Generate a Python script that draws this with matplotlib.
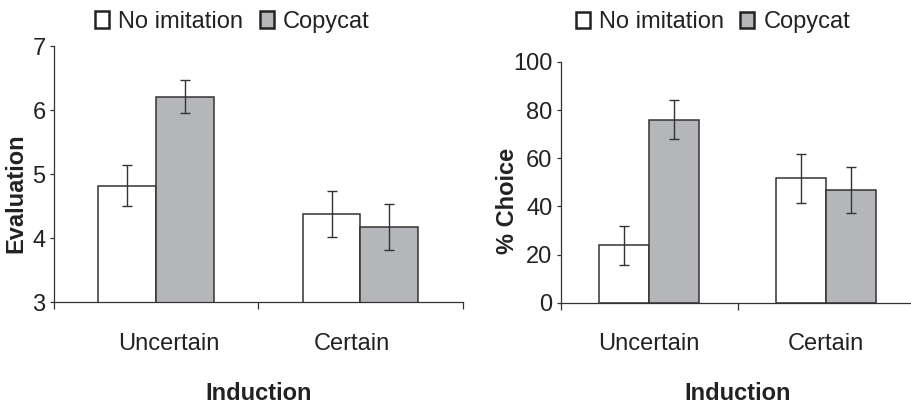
import numpy as np
import matplotlib
matplotlib.use('Agg')
import matplotlib.pyplot as plt
import matplotlib.patches as mpatches

# dados
categorias = ['Uncertain', 'Certain']
series = ['No imitation', 'Copycat']

aval_sem_imit = [4.82, 4.38]
aval_copycat = [6.21, 4.18]
aval_sem_imit_err = [0.32, 0.36]
aval_copycat_err = [0.26, 0.36]

escolha_sem_imit = [23.8, 51.6]
escolha_copycat = [76.0, 46.8]
escolha_sem_imit_err = [8.0, 10.1]
escolha_copycat_err = [8.0, 9.6]

COR_TEXTO = '#222222'
COR_LINHA = '#333333'
CORES = ['white', '#b5b6b9']

plt.rcParams['font.family'] = ['Liberation Sans', 'DejaVu Sans']
plt.rcParams['font.size'] = 17
plt.rcParams['text.color'] = COR_TEXTO
plt.rcParams['axes.labelcolor'] = COR_TEXTO
plt.rcParams['xtick.color'] = COR_LINHA
plt.rcParams['ytick.color'] = COR_LINHA
plt.rcParams['xtick.labelcolor'] = COR_TEXTO
plt.rcParams['ytick.labelcolor'] = COR_TEXTO

LARGURA = 0.283


def painel(ax, v1, v2, e1, e2, ylim, yticks, ylabel, pos_rotulos, ylabel_xy, leg_xy):
    x = np.arange(len(categorias))
    for desl, vals, errs, cor in [(-LARGURA / 2, v1, e1, CORES[0]),
                                  (LARGURA / 2, v2, e2, CORES[1])]:
        ax.bar(x + desl, vals, width=LARGURA, color=cor, edgecolor=COR_LINHA,
               linewidth=1.1, zorder=2)
        ax.errorbar(x + desl, vals, yerr=errs, fmt='none', ecolor=COR_LINHA,
                    elinewidth=1.0, capsize=3.6, capthick=1.0, zorder=3)

    ax.set_xlim(-0.5, len(categorias) - 0.5)
    ax.set_ylim(*ylim)
    ax.set_yticks(yticks)
    ax.spines['top'].set_visible(False)
    ax.spines['right'].set_visible(False)
    for s in ['left', 'bottom']:
        ax.spines[s].set_color(COR_LINHA)
        ax.spines[s].set_linewidth(0.9)

    # ticks nas fronteiras das categorias, rótulos no centro
    ax.set_xticks(np.arange(len(categorias) + 1) - 0.5)
    ax.set_xticklabels([])
    ax.set_xticks(pos_rotulos, minor=True)
    ax.set_xticklabels(categorias, minor=True)
    ax.tick_params(axis='x', which='major', length=5, width=0.9, direction='out')
    ax.tick_params(axis='x', which='minor', length=0, pad=22)
    ax.tick_params(axis='y', length=3, width=0.9, pad=3)

    ax.set_xlabel('Induction', fontweight='bold', labelpad=19.5)
    ax.set_ylabel(ylabel, fontweight='bold')
    ax.yaxis.set_label_coords(*ylabel_xy)

    patches = [mpatches.Patch(facecolor=c, edgecolor='#222222', linewidth=1.8, label=s)
               for c, s in zip(CORES, series)]
    ax.legend(handles=patches, loc='center', bbox_to_anchor=leg_xy, ncol=2,
              frameon=False, handlelength=0.6, handleheight=0.72,
              handletextpad=0.38, columnspacing=0.7, borderpad=0, borderaxespad=0)


fig = plt.figure(figsize=(9.12, 4.04), dpi=100)
ax1 = fig.add_axes([0.0592, 0.2517, 0.448, 0.634])
ax2 = fig.add_axes([0.6148, 0.2507, 0.388, 0.596])

painel(ax1, aval_sem_imit, aval_copycat, aval_sem_imit_err, aval_copycat_err,
       (3, 7), [3, 4, 5, 6, 7], 'Evaluation', [0.06, 0.96],
       (-0.066, 0.426), (0.437, 1.094))
painel(ax2, escolha_sem_imit, escolha_copycat, escolha_sem_imit_err, escolha_copycat_err,
       (0, 100), [0, 20, 40, 60, 80, 100], '% Choice', [0, 1],
       (-0.118, 0.422), (0.43, 1.165))

fig.savefig('out.png', dpi=100)
plt.close(fig)
